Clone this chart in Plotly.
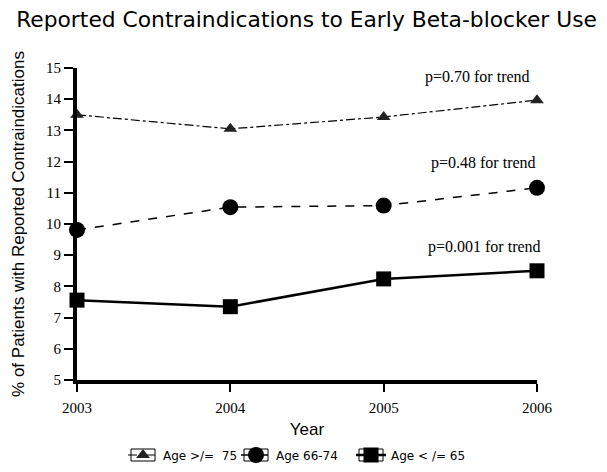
import plotly.graph_objects as go

years = [2003, 2004, 2005, 2006]
age_75_plus = [13.5, 13.05, 13.43, 13.97]
age_66_74 = [9.81, 10.54, 10.59, 11.16]
age_65_under = [7.56, 7.35, 8.24, 8.50]
series_names = ["Age >/=  75", "Age 66-74", "Age < /= 65"]
trend_labels = ["p=0.70 for trend", "p=0.48 for trend", "p=0.001 for trend"]
y_ticks = list(range(5, 16))

L, R, T, B, W, H = 77, 70, 68, 92, 607, 472
PW, PH = W - L - R, H - T - B

def px2paper(px, py):
    return (px - L) / PW, (H - B - py) / PH

fig = go.Figure()
fig.add_trace(go.Scatter(x=years, y=age_75_plus, name=series_names[0], mode="lines+markers",
                         legend="legend",
                         line=dict(color="black", width=1.2, dash="dashdot"),
                         marker=dict(symbol="triangle-up", size=12, color="#222")))
fig.add_trace(go.Scatter(x=years, y=age_66_74, name=series_names[1], mode="lines+markers",
                         legend="legend2",
                         line=dict(color="black", width=1.5, dash="dash"),
                         marker=dict(symbol="circle", size=16, color="black")))
fig.add_trace(go.Scatter(x=years, y=age_65_under, name=series_names[2], mode="lines+markers",
                         legend="legend3",
                         line=dict(color="black", width=2.5),
                         marker=dict(symbol="square", size=15, color="black")))

ann_pos = [(2005.61, 14.71), (2005.65, 11.96), (2005.66, 9.26)]
for (ax, ay), t in zip(ann_pos, trend_labels):
    fig.add_annotation(x=ax, y=ay, xref="x", yref="y", text=t, showarrow=False,
                       font=dict(family="Liberation Serif", size=16, color="black"))

legend_font = dict(family="DejaVu Sans", size=12, color="black")
leg_symbol_centers = [143, 256, 371]
legends = {}
for i, cx in enumerate(leg_symbol_centers):
    lx, ly = px2paper(cx - 20, 455)
    key = "legend" if i == 0 else f"legend{i+1}"
    legends[key] = dict(x=lx, xanchor="left", y=ly, yanchor="middle", font=legend_font,
                        bgcolor="rgba(0,0,0,0)", borderwidth=0, itemwidth=30)
    x0, y0 = px2paper(cx - 12, 461)
    x1, y1 = px2paper(cx + 12, 449)
    fig.add_shape(type="rect", xref="paper", yref="paper", x0=x0, x1=x1, y0=y0, y1=y1,
                  line=dict(color="black", width=1), layer="above")

fig.update_layout(
    width=W, height=H,
    margin=dict(l=L, r=R, t=T, b=B, autoexpand=False),
    paper_bgcolor="white", plot_bgcolor="white",
    title=dict(text="Reported Contraindications to Early Beta-blocker Use",
               font=dict(family="DejaVu Sans", size=21.8, color="black"),
               x=0.505, xanchor="center", y=0.958, yanchor="middle"),
    xaxis=dict(range=[2003, 2006], tickvals=years, ticktext=[str(y) for y in years],
               showline=True, linewidth=4, linecolor="black", showgrid=False, zeroline=False,
               ticks="outside", ticklen=8, tickwidth=1.5, tickcolor="black", automargin=False,
               ticklabelstandoff=3,
               tickfont=dict(family="Liberation Serif", size=15, color="black"),
               title=dict(text="Year", font=dict(family="Liberation Sans", size=17, color="black"),
                          standoff=9)),
    yaxis=dict(range=[5, 15], tickvals=y_ticks,
               showline=True, linewidth=4, linecolor="black", showgrid=False, zeroline=False,
               ticks="outside", ticklen=9, tickwidth=1.5, tickcolor="black", automargin=False,
               tickfont=dict(family="Liberation Serif", size=15, color="black"),
               title=dict(text="% of Patients with Reported Contraindications",
                          font=dict(family="Liberation Sans", size=17, color="black"),
                          standoff=18)),
    showlegend=True,
    **legends,
)
fig.update_traces(cliponaxis=False)

fig.write_html("out.html", config={"displayModeBar": False},
               post_script="document.body.style.margin='0';document.body.style.overflow='hidden';")
